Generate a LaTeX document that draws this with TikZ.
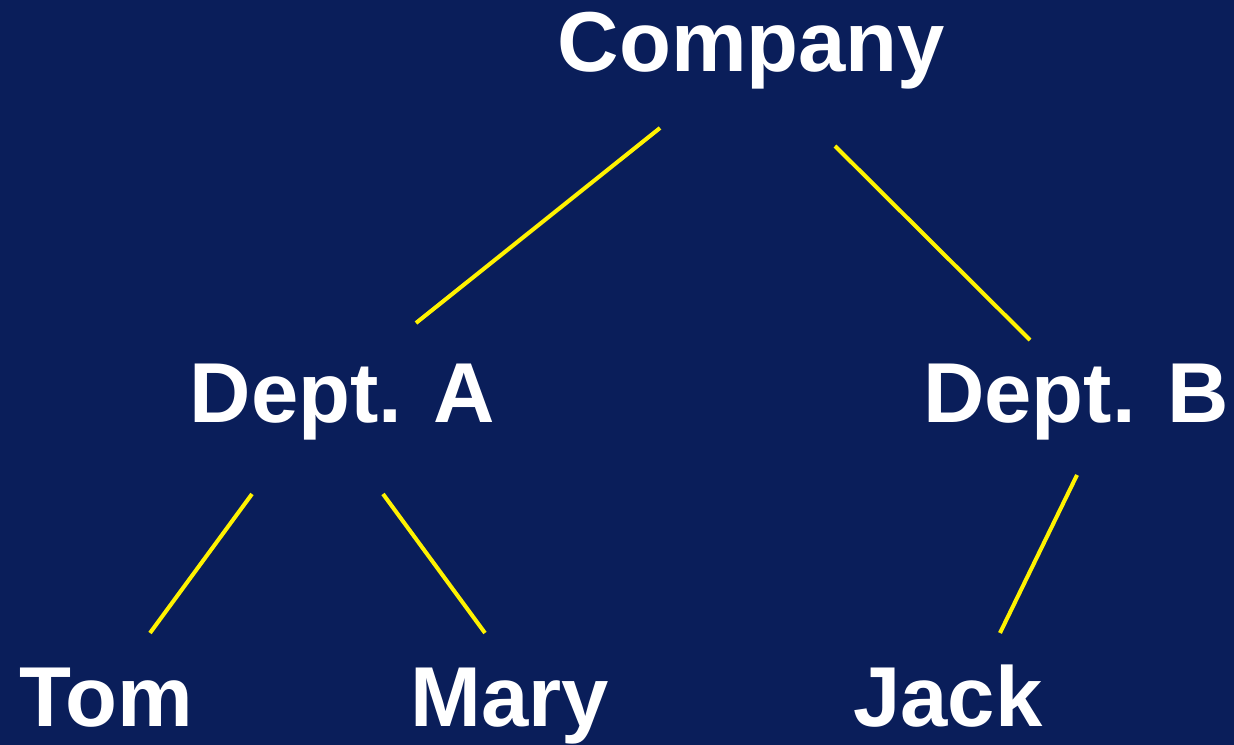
\documentclass[tikz,border=0pt]{standalone}
\usepackage{fontspec}
\setmainfont{Liberation Sans}
\usepackage{tikz}
\definecolor{navybg}{RGB}{10,30,90}
\tikzset{
	unit/.style={text=white, font=\fontsize{48.4}{58}\selectfont\bfseries, anchor=base, inner sep=0pt},
	branch/.style={yellow, line width=2.3pt}
}

\begin{document}
\begin{tikzpicture}
		%%%%% START %%%%%
		\fill[navybg] (0, 0) rectangle (24.68, 14.9);
		\useasboundingbox (0, 0) rectangle (24.68, 14.9);
		
		\node[unit] (company) at (15.03, 13.46) {Company};
		\node[unit] (deptA) at (6.85, 6.44) {Dept. A};
		\node[unit] (deptB) at (21.52, 6.44) {Dept. B};
		\node[unit] (tom) at (2.12, 0.36) {Tom};
		\node[unit] (mary) at (10.2, 0.36) {Mary};
		\node[unit] (jack) at (18.96, 0.36) {Jack};
		
		\coordinate (c-a) at (13.2, 12.34);
		\coordinate (a-c) at (8.32, 8.44);
		\coordinate (c-b) at (16.7, 11.98);
		\coordinate (b-c) at (20.6, 8.1);
		\coordinate (a-t) at (5.04, 5.02);
		\coordinate (t-a) at (3.0, 2.24);
		\coordinate (a-m) at (7.66, 5.02);
		\coordinate (m-a) at (9.7, 2.24);
		\coordinate (b-j) at (21.54, 5.4);
		\coordinate (j-b) at (20.0, 2.24);
		
		\draw[branch] (c-a) -- (a-c);
		\draw[branch] (c-b) -- (b-c);
		\draw[branch] (a-t) -- (t-a);
		\draw[branch] (a-m) -- (m-a);
		\draw[branch] (b-j) -- (j-b);
		%%%%% END %%%%%
\end{tikzpicture}
\end{document}
